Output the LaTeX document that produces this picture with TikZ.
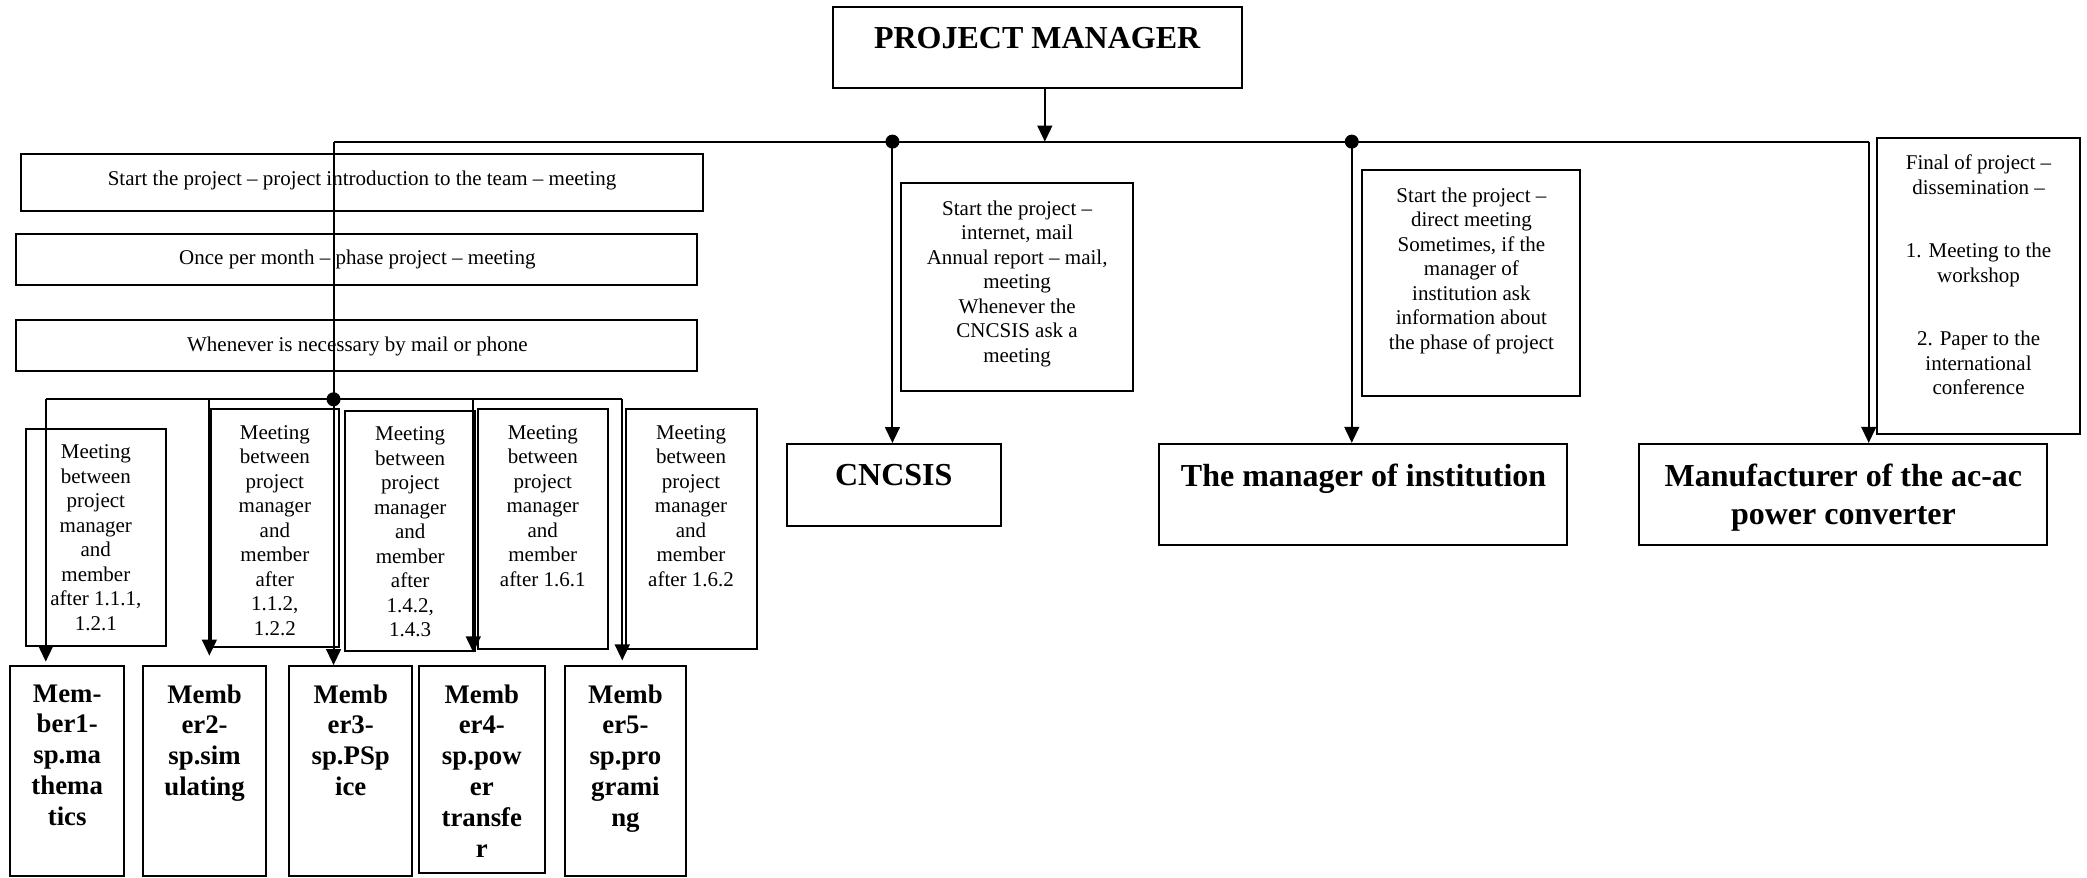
\documentclass[tikz,border=0pt]{standalone}
\usepackage{fontspec}
\setmainfont{Liberation Serif}
\usetikzlibrary{arrows.meta,fit}
\begin{document}
\begin{tikzpicture}[x=0.6655pt,y=-0.6655pt,
  box/.style={draw,line width=1pt,inner sep=0pt},
  conn/.style={line width=0.95pt},
  arr/.style={conn,-{Triangle[length=8pt,width=7.4pt]}},
  small/.style={font=\fontsize{10.5}{12.25}\selectfont,align=center,inner sep=0pt,anchor=north},
  big/.style={font=\fontsize{16}{18.6}\selectfont\bfseries,align=center,inner sep=0pt,anchor=north},
  mem/.style={font=\fontsize{13.4}{15.4}\selectfont\bfseries,align=center,inner sep=0pt,anchor=north},
  dotn/.style={circle,fill,inner sep=0pt,minimum size=7pt}]
\useasboundingbox (0,0) rectangle (1568,659);

% ---------- boxes ----------
\node[box,fit={(625.6,5.5) (932.9,66.4)}] (pm) {};
\node[big] (pmt) at (779.2,20.4) {PROJECT MANAGER};

\node[box,fit={(16,116) (528,158.5)}] (s1) {};
\node[small] (s1t) at (272,128.5) {Start the project – project introduction to the team – meeting};
\node[box,fit={(12,176) (524,214)}] (s2) {};
\node[small] (s2t) at (268.5,187.5) {Once per month – phase project – meeting};
\node[box,fit={(12,240.5) (524,279)}] (s3) {};
\node[small] (s3t) at (268.5,252.5) {Whenever is necessary by mail or phone};

\node[box,fit={(677,137.7) (851.5,294)}] (cnt) {};
\node[small] (cntt) at (764.2,150.5) {Start the project –\\internet, mail\\Annual report – mail,\\meeting\\Whenever the\\CNCSIS ask a\\meeting};
\node[box,fit={(591,333.6) (752,395)}] (cn) {};
\node[big] (cnl) at (671.5,348.6) {CNCSIS};

\node[box,fit={(1023.6,128) (1187,297.6)}] (mit) {};
\node[small] (mitt) at (1105.5,140.7) {Start the project –\\direct meeting\\Sometimes, if the\\manager of\\institution ask\\information about\\the phase of project};
\node[box,fit={(870.8,333.5) (1177.5,409.7)}] (mi) {};
\node[big] (mil) at (1024.5,348.6) {The manager of institution};

\node[box,fit={(1410,104) (1563,326)}] (fin) {};
\node[small] (fint) at (1486.5,116.3) {Final of project –\\dissemination –\\[19.4pt]1. Meeting to the\\workshop\\[19.4pt]2. Paper to the\\international\\conference};
\node[box,fit={(1231.5,333.5) (1538,409.7)}] (mf) {};
\node[big] (mfl) at (1385,348.6) {Manufacturer of the ac-ac\\power converter};

% meeting boxes
\node[box,fit={(19.4,322.6) (124.5,485.1)}] (m1) {};
\node[small] (m1t) at (72,333.8) {Meeting\\between\\project\\manager\\and\\member\\after 1.1.1,\\1.2.1};
\node[box,fit={(158.3,307.5) (254.5,485.9)}] (m2) {};
\node[small] (m2t) at (206.5,319.3) {Meeting\\between\\project\\manager\\and\\member\\after\\1.1.2,\\1.2.2};
\node[box,fit={(259.4,308.8) (356.5,488.9)}] (m3) {};
\node[small] (m3t) at (308.2,320.5) {Meeting\\between\\project\\manager\\and\\member\\after\\1.4.2,\\1.4.3};
\node[box,fit={(358.8,307.5) (457,487.6)}] (m4) {};
\node[small] (m4t) at (407.8,319.3) {Meeting\\between\\project\\manager\\and\\member\\after 1.6.1};
\node[box,fit={(470.4,307.5) (568.4,487.6)}] (m5) {};
\node[small] (m5t) at (519.2,319.3) {Meeting\\between\\project\\manager\\and\\member\\after 1.6.2};

% member boxes
\node[box,fit={(7.5,500.4) (93.5,658)}] (mb1) {};
\node[mem] (mb1t) at (50.5,514) {Mem-\\ber1-\\sp.ma\\thema\\tics};
\node[box,fit={(107.7,500.4) (199.8,658)}] (mb2) {};
\node[mem] (mb2t) at (153.7,514) {Memb\\er2-\\sp.sim\\ulating};
\node[box,fit={(217.4,500.4) (309.4,658)}] (mb3) {};
\node[mem] (mb3t) at (263.5,514) {Memb\\er3-\\sp.PSp\\ice};
\node[box,fit={(314.5,500.4) (409.5,655.6)}] (mb4) {};
\node[mem] (mb4t) at (362,514) {Memb\\er4-\\sp.pow\\er\\transfe\\r};
\node[box,fit={(424.5,500.4) (515.3,658)}] (mb5) {};
\node[mem] (mb5t) at (469.9,514) {Memb\\er5-\\sp.pro\\grami\\ng};

% ---------- junctions ----------
\coordinate (jP) at (785,106.4);
\coordinate (jL) at (250.6,106.4);
\coordinate (jR) at (1404,106.4);
\coordinate (dC) at (250.6,300);
\coordinate (b1) at (34.4,300);
\coordinate (b2) at (157.3,300);
\coordinate (b4) at (355.6,300);
\coordinate (b5) at (467.5,300);

% ---------- connectors ----------
\draw[arr] (pm.south -| jP) -- (jP);
\draw[conn] (jL) -- (jR);
\node[dotn] (dA) at (670.5,106.4) {};
\node[dotn] (dB) at (1015.6,106.4) {};
\draw[arr] (dA.center) -- (cn.north -| dA);
\draw[arr] (dB.center) -- (mi.north -| dB);
\draw[arr] (jR) -- (mf.north -| jR);
\draw[conn] (jL) -- (dC);
\draw[conn] (b1) -- (b5);
\node[dotn] (dCn) at (dC) {};
\draw[arr] (dCn.center) -- (mb3.north -| dC);
\draw[arr,shorten >=1.7pt] (b1) -- (mb1.north -| b1);
\draw[arr,shorten >=4.7pt] (b2) -- (mb2.north -| b2);
\draw[arr,shorten >=6.3pt] (b4) -- (mb4.north -| b4);
\draw[arr,shorten >=2.3pt] (b5) -- (mb5.north -| b5);
\end{tikzpicture}
\end{document}
